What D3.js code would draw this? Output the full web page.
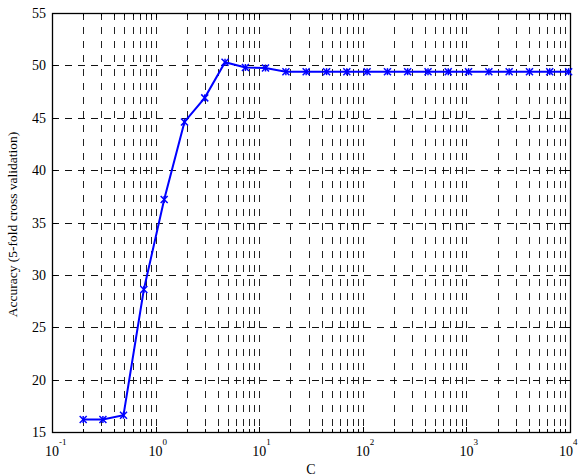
<!DOCTYPE html>
<html>
<head>
<meta charset="utf-8">
<script src="https://cdn.jsdelivr.net/npm/d3@7"></script>
<style>
  body { margin: 0; background: #fff; }
  text { font-family: "Liberation Serif", "Times New Roman", serif; fill: #000; }
</style>
</head>
<body>
<script>
// values
const cValues = [0.2, 0.31, 0.49, 0.77, 1.21, 1.9, 2.98, 4.68, 7.36, 11.5, 18.1, 28.4, 44.7,
  70.1, 110, 173, 271, 426, 668, 1049, 1648, 2587, 4060, 6373, 9700];
const accuracy = [16.2, 16.2, 16.6, 28.6, 37.2, 44.6, 46.9, 50.3, 49.8, 49.75, 49.4, 49.4, 49.4,
  49.4, 49.4, 49.4, 49.4, 49.4, 49.4, 49.4, 49.4, 49.4, 49.4, 49.4, 49.4];
const xDecades = [-1, 0, 1, 2, 3, 4];
const yTicks = [15, 20, 25, 30, 35, 40, 45, 50, 55];

const width = 579, height = 476;
const margin = { left: 52, right: 9, top: 13, bottom: 44 };

const svg = d3.select('body').append('svg')
  .attr('width', width)
  .attr('height', height);

const x = d3.scaleLog()
  .domain([0.1, 10000])
  .range([margin.left, width - margin.right]);

const y = d3.scaleLinear()
  .domain([15, 55])
  .range([height - margin.bottom, margin.top]);

// every minor/major log position for grid
const logTicks = [];
xDecades.forEach(function(k) {
  if (k == 4) { logTicks.push(Math.pow(10, k)); return; }
  for (let m = 1; m <= 9; m++) logTicks.push(m * Math.pow(10, k));
});

const grid = svg.append('g');

grid.selectAll('.vgrid')
  .data(logTicks.filter(d => d > 0.1 && d < 10000))
  .enter().append('line')
  .attr('x1', d => Math.round(x(d)) + 0.5)
  .attr('x2', d => Math.round(x(d)) + 0.5)
  .attr('y1', y(55))
  .attr('y2', y(15))
  .attr('stroke', '#222')
  .attr('stroke-width', 1)
  .attr('stroke-dasharray', '7,7');

grid.selectAll('.hgrid')
  .data(yTicks.slice(1, -1))
  .enter().append('line')
  .attr('x1', x(0.1))
  .attr('x2', x(10000))
  .attr('y1', d => Math.round(y(d)) + 0.5)
  .attr('y2', d => Math.round(y(d)) + 0.5)
  .attr('stroke', '#111')
  .attr('stroke-width', 1)
  .attr('stroke-dasharray', '7,6');

// inner tick marks (matlab style, both sides)
const ticks = svg.append('g').attr('stroke', '#000').attr('stroke-width', 1);
logTicks.forEach(function(d) {
  const big = Math.abs(Math.log10(d) - Math.round(Math.log10(d))) < 1e-9;
  const len = big ? 5 : 3;
  const px = Math.round(x(d)) + 0.5;
  ticks.append('line').attr('x1', px).attr('x2', px).attr('y1', y(15)).attr('y2', y(15) - len);
  ticks.append('line').attr('x1', px).attr('x2', px).attr('y1', y(55)).attr('y2', y(55) + len);
});
yTicks.forEach(function(d) {
  const py = Math.round(y(d)) + 0.5;
  ticks.append('line').attr('x1', x(0.1)).attr('x2', x(0.1) + 5).attr('y1', py).attr('y2', py);
  ticks.append('line').attr('x1', x(10000)).attr('x2', x(10000) - 5).attr('y1', py).attr('y2', py);
});

// frame
svg.append('rect')
  .attr('x', x(0.1) + 0.5)
  .attr('y', y(55) + 0.5)
  .attr('width', x(10000) - x(0.1))
  .attr('height', y(15) - y(55))
  .attr('fill', 'none')
  .attr('stroke', '#000')
  .attr('stroke-width', 1.3);

// y tick labels
svg.selectAll('.ylab')
  .data(yTicks)
  .enter().append('text')
  .attr('x', x(0.1) - 6)
  .attr('y', d => y(d) + 5)
  .attr('text-anchor', 'end')
  .style('font-size', '14px')
  .text(d => d);

// x tick labels 10^k (last one nudged so the exponent stays on the page)
const xl = svg.selectAll('.xlab')
  .data(xDecades)
  .enter().append('g')
  .attr('transform', d => 'translate(' + (x(Math.pow(10, d)) - (d == 4 ? 4 : 0)) + ',' + (y(15) + 24) + ')');
xl.append('text')
  .attr('text-anchor', 'middle')
  .style('font-size', '14px')
  .text('10');
xl.append('text')
  .attr('x', 7)
  .attr('y', -11)
  .style('font-size', '9px')
  .text(d => d);

// axis titles
svg.append('text')
  .attr('x', (x(0.1) + x(10000)) / 2)
  .attr('y', height - 2)
  .attr('text-anchor', 'middle')
  .style('font-size', '14px')
  .text('C');

svg.append('text')
  .attr('transform', 'translate(17,' + (y(35) + 2) + ') rotate(-90)')
  .attr('text-anchor', 'middle')
  .style('font-size', '13.5px')
  .text('Accuracy (5-fold cross validation)');

// data line
const line = d3.line()
  .x((d, i) => x(cValues[i]))
  .y(d => y(d));

svg.append('path')
  .datum(accuracy)
  .attr('d', line)
  .attr('fill', 'none')
  .attr('stroke', '#0000ff')
  .attr('stroke-width', 2);

// asterisk markers
const r = 3.5;
const mk = svg.append('g').attr('stroke', '#0000ff').attr('stroke-width', 1.5);
accuracy.forEach(function(v, i) {
  const cx = x(cValues[i]), cy = y(v);
  mk.append('line').attr('x1', cx - r).attr('x2', cx + r).attr('y1', cy - r).attr('y2', cy + r);
  mk.append('line').attr('x1', cx - r).attr('x2', cx + r).attr('y1', cy + r).attr('y2', cy - r);
  mk.append('line').attr('x1', cx).attr('x2', cx).attr('y1', cy - r).attr('y2', cy + r);
});
</script>
</body>
</html>
